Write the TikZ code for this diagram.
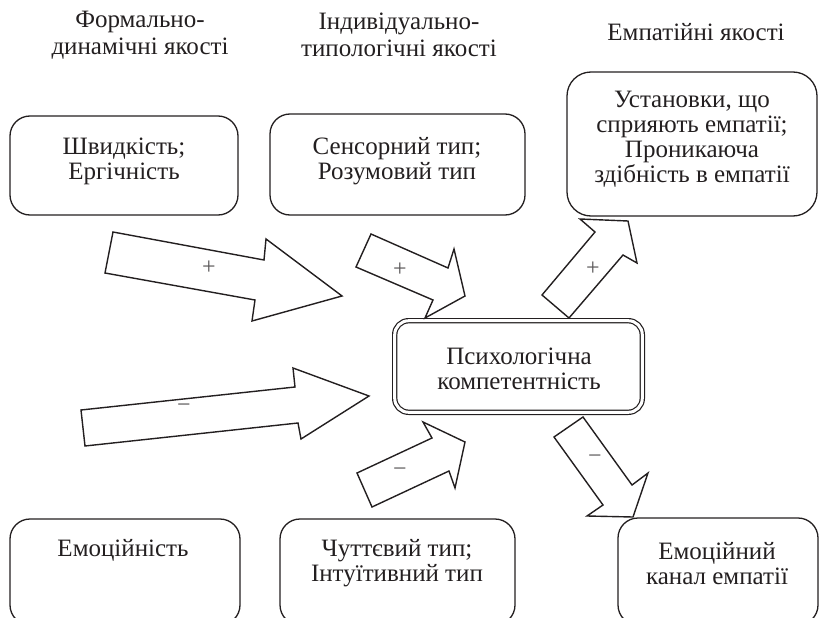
\documentclass[tikz,border=0pt]{standalone}
\usepackage{fontspec}
\setmainfont{Liberation Serif}
\definecolor{ink}{HTML}{231F20}
\begin{document}
\begin{tikzpicture}[x=1pt,y=-1pt,
  box/.style={draw=ink, line width=1.3pt, rounded corners=20pt, inner sep=0pt},
  txt/.style={font=\fontsize{25}{25}\selectfont, align=center, text=ink, inner sep=0pt},
  ttl/.style={font=\fontsize{25}{27}\selectfont, align=center, text=ink, inner sep=0pt},
  blockarrow/.style={draw=ink, line width=1.4pt, fill=white, line join=miter},
  sign/.style={font=\fontsize{24}{24}\selectfont, text=ink!75, inner sep=0pt}]
\useasboundingbox (0,0) rectangle (822,618);
\clip (0,0) rectangle (822,618);

% titles
\node[ttl] (h1) at (140,35) {Формально-\\динамічні якості};
\node[ttl] (h2) at (399,35) {Індивідуально-\\типологічні якості};
\node[ttl] (h3) at (696,32) {Емпатійні якості};

% boxes
\node[box, minimum width=228, minimum height=99] (b1) at (124,165.5) {};
\node[box, minimum width=255, minimum height=101] (b2) at (397.5,164.5) {};
\node[box, minimum width=250, minimum height=144, rounded corners=24pt] (b3) at (692,144) {};
\node[box, minimum width=230, minimum height=106] (b4) at (125,572) {};
\node[box, minimum width=235, minimum height=106] (b5) at (397.5,572) {};
\node[box, minimum width=200, minimum height=107] (b6) at (718,571.5) {};
\node[draw=ink, double, double distance=3pt, line width=1.2pt, rounded corners=14pt,
      minimum width=247.6, minimum height=91.6, inner sep=0pt] (c) at (518.5,366.5) {};

% texts
\node[txt] (t1) at (124,161) {Швидкість;\\Ергічність};
\node[txt] (t2) at (397,161) {Сенсорний тип;\\Розумовий тип};
\node[txt] (t3) at (692,139) {Установки, що\\сприяють емпатії;\\Проникаюча\\здібність в емпатії};
\node[txt] (tc) at (519,369) {Психологічна\\компетентність};
\node[txt] (t4) at (123,550) {Емоційність};
\node[txt] (t5) at (397,563) {Чуттєвий тип;\\Інтуїтивний тип};
\node[txt] (t6) at (717,564) {Емоційний\\канал емпатії};

% block arrows
\draw[blockarrow] (113,232) -- (264,260) -- (266,239) -- (342,296) -- (252,321) -- (255,300) -- (105,273) -- cycle;
\node[sign] (s1) at (209,268) {+};
\draw[blockarrow] (371,234) -- (448,268) -- (454,249) -- (465,296) -- (425,318) -- (433,300) -- (356,267) -- cycle;
\node[sign] (s2) at (400,270) {+};
\draw[blockarrow] (542,295) -- (595,232) -- (580,219) -- (628,221) -- (637,263) -- (623,255) -- (569,318) -- cycle;
\node[sign] (s3) at (593,269) {+};
\draw[blockarrow] (81,410) -- (295,387) -- (293,368) -- (369,396) -- (301,439) -- (298,423) -- (85,446) -- cycle;
\node[sign] (s4) at (184,408) {−};
\draw[blockarrow] (357,473) -- (432,438) -- (423,422) -- (465,442) -- (455,488) -- (449,471) -- (372,507) -- cycle;
\node[sign] (s5) at (400,472) {−};
\draw[blockarrow] (583,417) -- (632,485) -- (648,473) -- (633,517) -- (587,516) -- (603,505) -- (554,437) -- cycle;
\node[sign] (s6) at (595,459) {−};
\end{tikzpicture}
\end{document}
